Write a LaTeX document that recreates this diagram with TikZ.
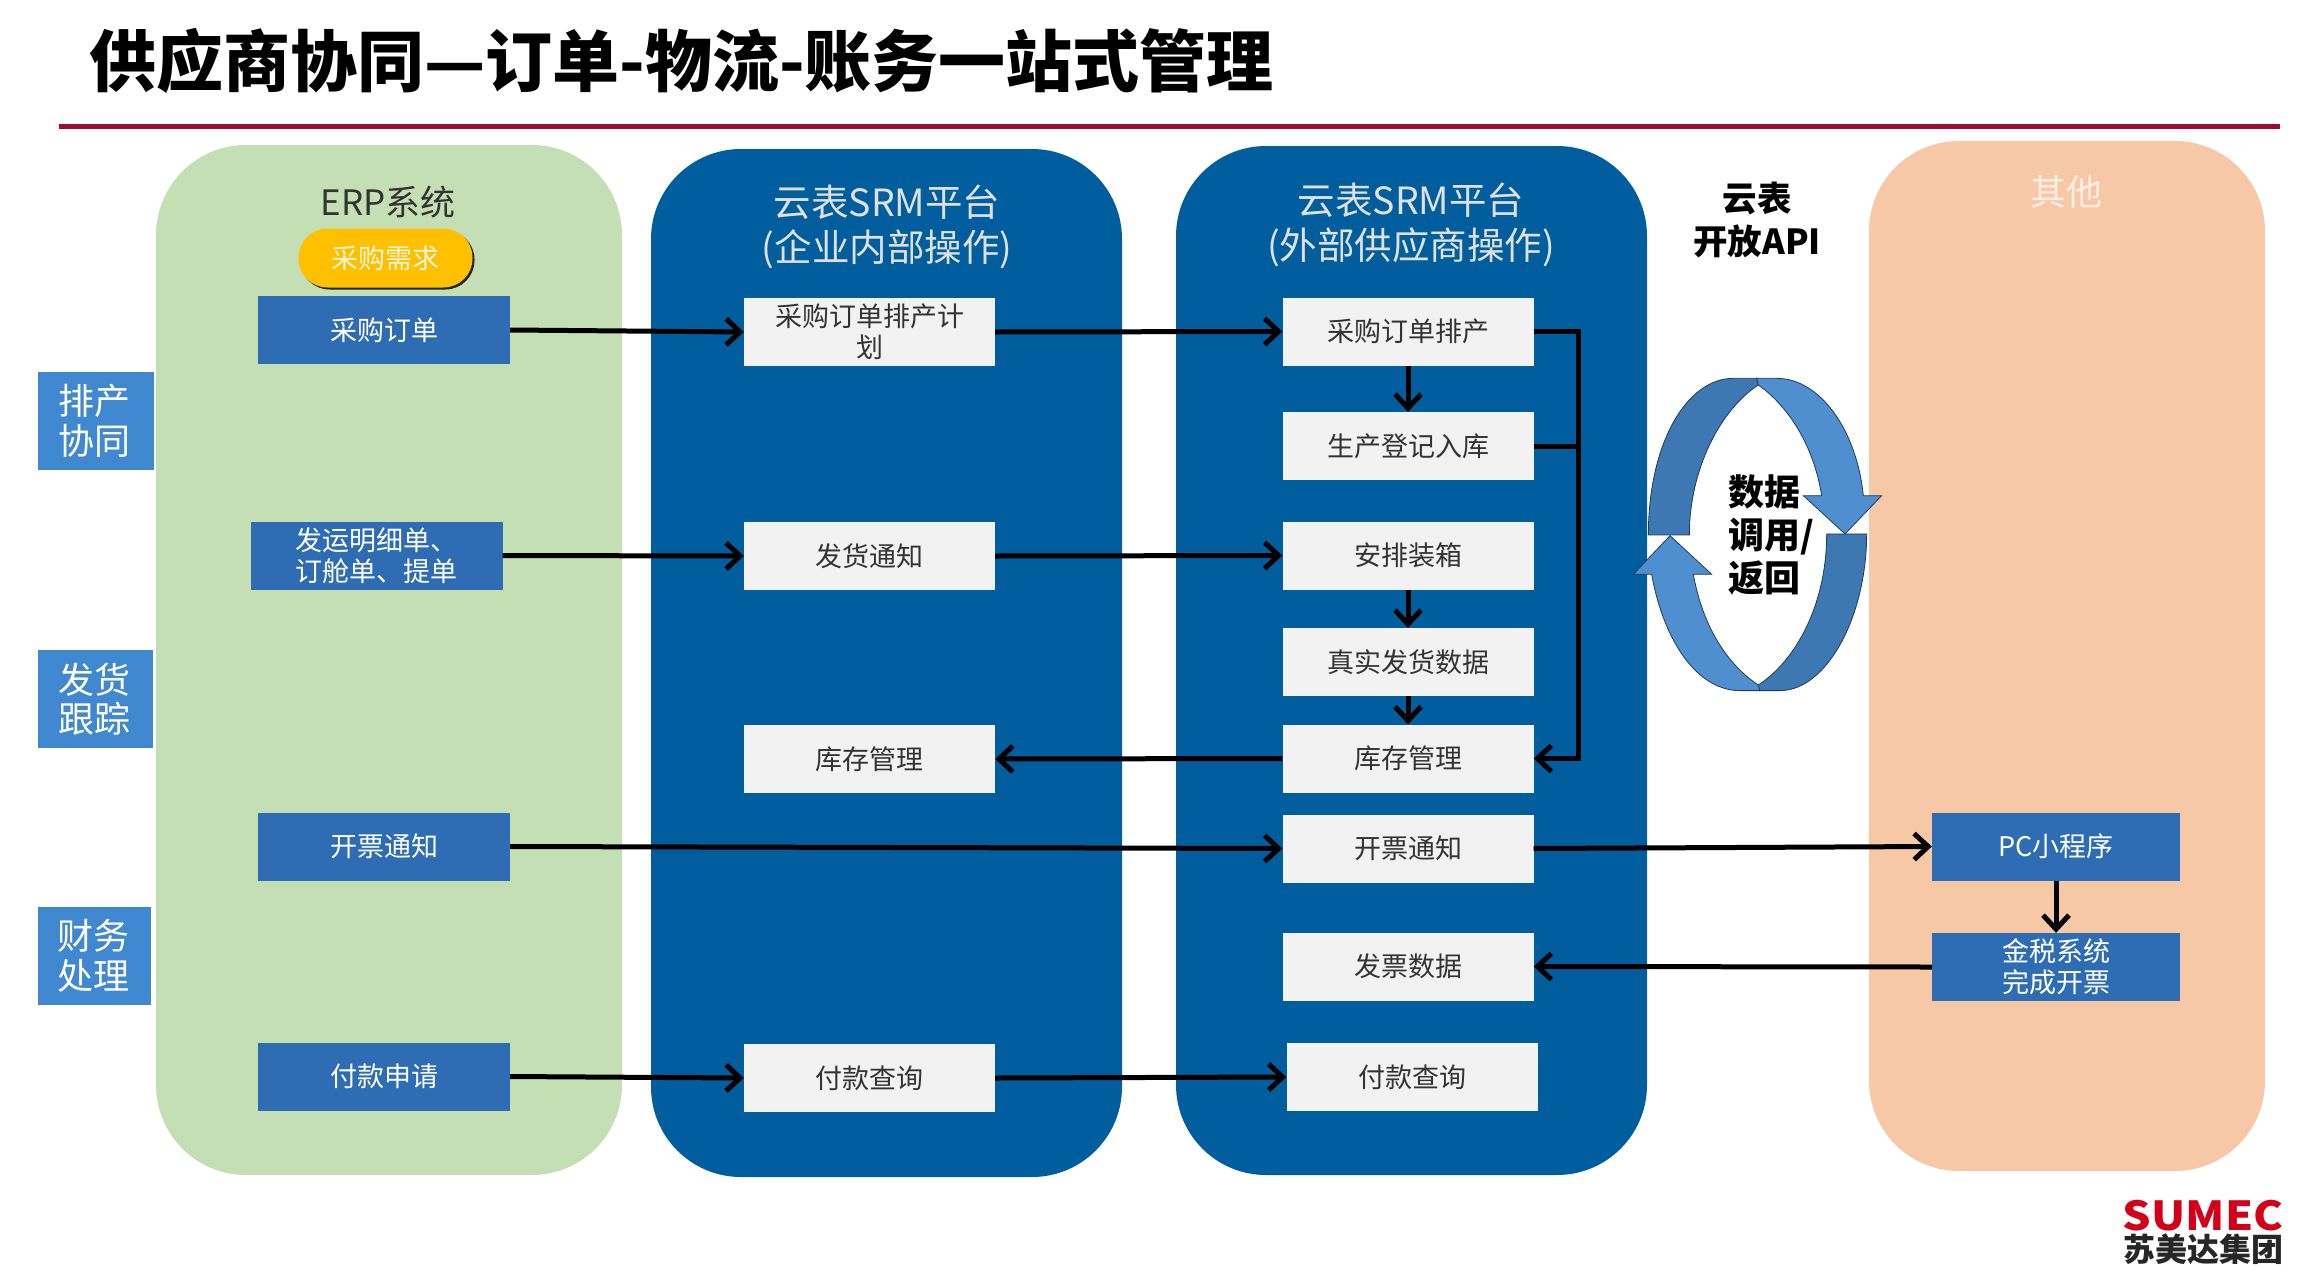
\documentclass[tikz,border=0pt]{standalone}
\usepackage{fontspec}
\setmainfont{Noto Sans CJK SC}
\usetikzlibrary{arrows.meta,shadows}
\definecolor{cgreen}{HTML}{C5DFB4}
\definecolor{cnavy}{HTML}{005E9E}
\definecolor{corange}{HTML}{F7C8A6}
\definecolor{cbox}{HTML}{2E6DB4}
\definecolor{ctag}{HTML}{4088D0}
\definecolor{cgrey}{HTML}{F2F2F2}
\definecolor{cgold}{HTML}{FFC000}
\definecolor{cred}{HTML}{A50A2E}
\definecolor{clite}{HTML}{4F8FD0}
\definecolor{cdark}{HTML}{3E78B2}
\definecolor{clogo}{HTML}{D4001A}
\tikzset{
 panel/.style={rounded corners=90pt,draw=none},
 bluebox/.style={fill=cbox,text=white,inner sep=0pt,align=center,minimum width=252pt,minimum height=68pt,font=\fontsize{27}{31}\selectfont},
 greybox/.style={fill=cgrey,text=black!80,inner sep=0pt,align=center,minimum width=251pt,minimum height=68pt,font=\fontsize{27}{31}\selectfont},
 tagbox/.style={fill=ctag,text=white,inner sep=0pt,align=center,font=\fontsize{36}{39.5}\selectfont},
 headtext/.style={align=center,inner sep=0pt,font=\fontsize{37.5}{45}\selectfont},
 link/.style={line width=5pt,-{Straight Barb[length=14pt,width=26pt,line width=5pt]}},
 plainlink/.style={line width=5pt},
}
\begin{document}
\begin{tikzpicture}[x=1pt,y=-1pt]
\useasboundingbox (0,0) rectangle (2314,1282);
% title
\node[inner sep=0pt,anchor=west,font=\fontsize{67}{70}\selectfont\bfseries] (title) at (89,61) {供应商协同—订单-物流-账务一站式管理};
\coordinate (ruleL) at (59,126);
\coordinate (ruleR) at (2280,126);
\draw[cred,line width=5pt] (ruleL) -- (ruleR);
% panels
\fill[cgreen,panel] (156,145) rectangle (622,1175);
\fill[cnavy,panel] (651,149) rectangle (1122,1177);
\fill[cnavy,panel] (1176,146) rectangle (1647,1175);
\fill[corange,panel] (1869,141) rectangle (2265,1171);
% headers
\node[headtext,font=\fontsize{35}{45}\selectfont,text=black!80] (h1) at (388,202) {ERP系统};
\node[headtext,text=white!88!black] (h2) at (887,226.5) {云表SRM平台\\(企业内部操作)};
\node[headtext,text=white!88!black] (h3) at (1411,224.5) {云表SRM平台\\(外部供应商操作)};
\node[headtext,font=\fontsize{34.5}{43}\selectfont\bfseries,text=black] (h4) at (1757,220) {云表\\开放API};
\node[headtext,font=\fontsize{36}{45}\selectfont,text=white!70!corange] (h5) at (2066,192) {其他};
% tags
\node[tagbox,minimum width=116pt,minimum height=98pt] (t1) at (96,421) {\hspace*{-3pt}排产\\\hspace*{-3pt}协同};
\node[tagbox,minimum width=115pt,minimum height=98pt] (t2) at (95.5,699) {\hspace*{-3pt}发货\\\hspace*{-3pt}跟踪};
\node[tagbox,minimum width=113pt,minimum height=98pt] (t3) at (94.5,956) {\hspace*{-3pt}财务\\\hspace*{-3pt}处理};
% pill
\node[fill=cgold,text=white!88!cgold,rounded corners=29pt,inner sep=0pt,minimum width=174pt,minimum height=59pt,font=\fontsize{27}{31}\selectfont,drop shadow={shadow xshift=2pt,shadow yshift=-2pt,opacity=1,fill=black!85}] (need) at (385.5,258) {采购需求};
% ERP column
\node[bluebox] (e1) at (384,330) {采购订单};
\node[bluebox] (e2) at (376.5,555.5) {发运明细单、\\订舱单、提单};
\node[bluebox] (e3) at (384,846.5) {开票通知};
\node[bluebox] (e4) at (384,1076.5) {付款申请};
% internal
\node[greybox] (i1) at (869.5,332) {采购订单排产计\\划};
\node[greybox] (i2) at (869.5,556) {发货通知};
\node[greybox] (i3) at (869.5,759) {库存管理};
\node[greybox] (i4) at (869.5,1078) {付款查询};
% external
\node[greybox] (o1) at (1408,331.5) {采购订单排产};
\node[greybox] (o2) at (1408,446) {生产登记入库};
\node[greybox] (o3) at (1408,555.5) {安排装箱};
\node[greybox] (o4) at (1408,662) {真实发货数据};
\node[greybox] (o5) at (1408,758.5) {库存管理};
\node[greybox] (o6) at (1408,848.5) {开票通知};
\node[greybox] (o7) at (1408,966.5) {发票数据};
\node[greybox] (o8) at (1412,1077) {付款查询};
% other
\node[bluebox,minimum width=248pt] (r1) at (2056,846.5) {PC小程序};
\node[bluebox,minimum width=248pt] (r2) at (2056,967) {金税系统\\完成开票};
% connectors
\draw[link] (e1.east) -- (i1.west);
\draw[link] (i1.east) -- (o1.west);
\draw[link] (e2.east) -- (i2.west);
\draw[link] (i2.east) -- (o3.west);
\draw[link] (o5.west) -- (i3.east);
\draw[link] (e3.east) -- (o6.west);
\draw[link] (o6.east) -- (r1.west);
\draw[link] (r1.south) -- (r2.north);
\draw[link] (r2.west) -- (o7.east);
\draw[link] (e4.east) -- (i4.west);
\draw[link] (i4.east) -- (o8.west);
\draw[link] (o1.south) -- (o2.north);
\draw[link] (o3.south) -- (o4.north);
\draw[link] (o4.south) -- (o5.north);
\coordinate (bus) at (1578,0);
\draw[link] (o1.east) -- (o1.east -| bus) -- (o5.east -| bus) -- (o5.east);
\draw[plainlink] (o2.east) -- (o2.east -| bus);
% cycle arrows
\begin{scope}[shift={(1600,330)},x=0.3333pt,y=-0.3333pt,draw=black!50!cdark,line width=0.8pt]
\filldraw[fill=cdark] (145,615) .. controls (145,340) and (260,145) .. (400,145) -- (475,145) -- (475,165) .. controls (360,240) and (268,420) .. (268,615) -- cycle;
\filldraw[fill=clite] (470,145) -- (530,145) .. controls (660,145) and (770,300) .. (790,497) -- (845,497) -- (735,612) -- (610,497) -- (665,497) .. controls (640,340) and (560,225) .. (475,165) -- cycle;
\filldraw[fill=cdark] (680,612) -- (800,612) .. controls (800,860) and (680,1082) .. (540,1082) -- (475,1082) -- (475,1065) .. controls (590,990) and (680,820) .. (680,612) -- cycle;
\filldraw[fill=clite] (210,617) -- (335,733) -- (280,733) .. controls (310,900) and (390,1010) .. (475,1065) -- (480,1082) -- (420,1082) .. controls (290,1082) and (190,930) .. (155,733) -- (100,733) -- cycle;
\end{scope}
\node[inner sep=0pt,anchor=west,align=left,font=\fontsize{36}{43}\selectfont\bfseries] (cyc) at (1728,535) {数据\\调用/\\返回};
% logo
\node[inner sep=0pt,text=clogo,font=\fontsize{40}{44}\selectfont\bfseries,xscale=1.12] (logo1) at (2203,1216) {SUMEC};
\node[inner sep=0pt,text=black!85,font=\fontsize{32}{36}\selectfont\bfseries] (logo2) at (2203,1249) {苏美达集团};
\end{tikzpicture}
\end{document}
